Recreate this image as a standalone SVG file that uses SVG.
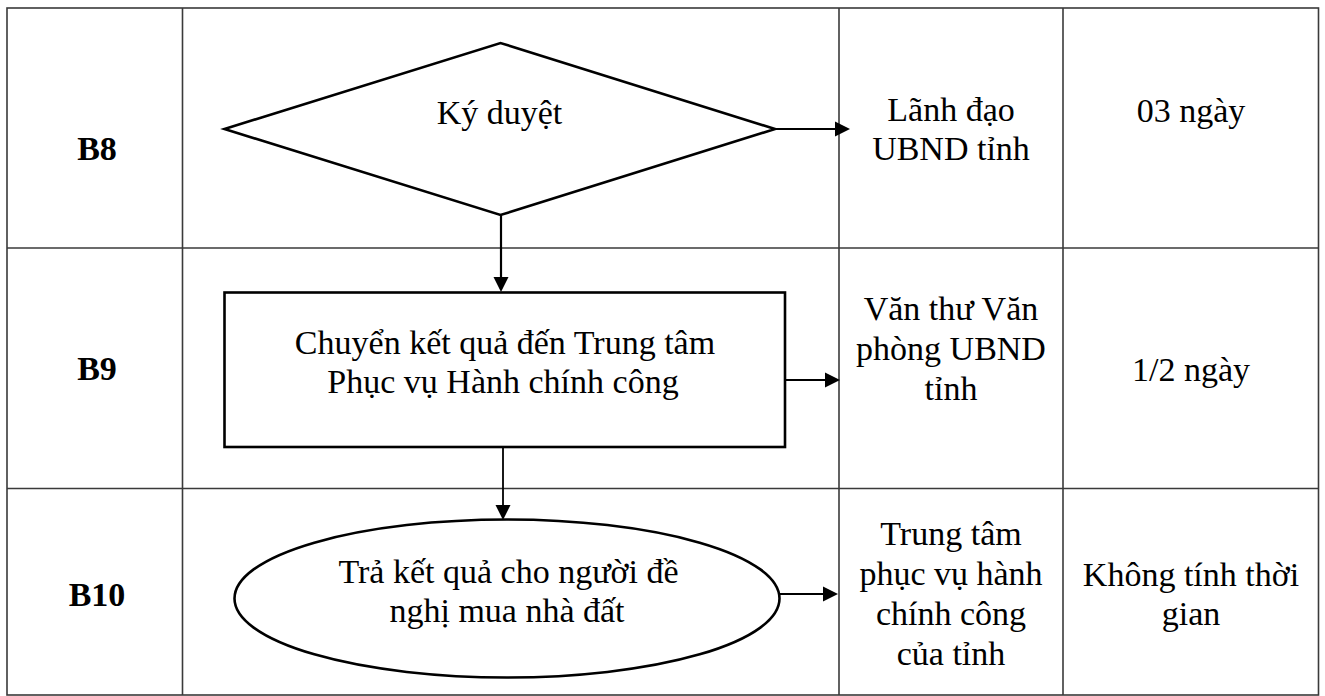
<svg xmlns="http://www.w3.org/2000/svg" width="1325" height="696" viewBox="0 0 1325 696">
<style>
.grid{stroke:#3a3a3a;stroke-width:1.6;fill:none}
.shape{stroke:#000;stroke-width:2.6;fill:#fff}
.conn{stroke:#000;fill:none}
text{font-family:'Liberation Serif',serif;font-size:34px;fill:#000;text-anchor:middle}
.b{font-weight:bold}
</style>
<defs>
<marker id="ah" markerUnits="userSpaceOnUse" markerWidth="16" markerHeight="16" refX="12" refY="8" orient="auto" viewBox="0 0 16 16">
<path d="M0,0.5 L15,8 L0,15.5 Z" fill="#000"/>
</marker>
</defs>
<rect width="1325" height="696" fill="#fff"/>
<g id="table">
<rect class="grid" x="7" y="8" width="1311.5" height="687"/>
<line class="grid" x1="182.5" y1="8" x2="182.5" y2="695"/>
<line class="grid" x1="839" y1="8" x2="839" y2="695"/>
<line class="grid" x1="1063" y1="8" x2="1063" y2="695"/>
<line class="grid" x1="7" y1="248" x2="1318.5" y2="248"/>
<line class="grid" x1="7" y1="488.5" x2="1318.5" y2="488.5"/>
</g>
<g id="labels" font-family="Liberation Serif, serif">
<text class="b" x="97" y="160">B8</text>
<text class="b" x="97" y="380">B9</text>
<text class="b" x="97" y="606">B10</text>
<text x="951" y="121">Lãnh đạo</text>
<text x="951" y="160">UBND tỉnh</text>
<text x="1191" y="122">03 ngày</text>
<text x="951" y="320">Văn thư Văn</text>
<text x="951" y="360">phòng UBND</text>
<text x="951" y="400">tỉnh</text>
<text x="1191" y="381">1/2 ngày</text>
<text x="951" y="545">Trung tâm</text>
<text x="951" y="585">phục vụ hành</text>
<text x="951" y="625">chính công</text>
<text x="951" y="665">của tỉnh</text>
<text x="1191" y="586">Không tính thời</text>
<text x="1191" y="625">gian</text>
</g>
<g id="node-b8">
<polygon class="shape" points="224.5,129 500.5,43 775,129 500.5,215"/>
<text x="499.5" y="124">Ký duyệt</text>
</g>
<g id="node-b9">
<rect class="shape" x="224.5" y="292.5" width="560.5" height="154.5"/>
<text x="505" y="354">Chuyển kết quả đến Trung tâm</text>
<text x="503" y="393">Phục vụ Hành chính công</text>
</g>
<g id="node-b10">
<ellipse class="shape" cx="507" cy="598.5" rx="272.5" ry="79"/>
<text x="508.5" y="583">Trả kết quả cho người đề</text>
<text x="507" y="622">nghị mua nhà đất</text>
</g>
<g id="connectors">
<path class="conn" stroke-width="1.8" d="M775,129 H847" marker-end="url(#ah)"/>
<path class="conn" stroke-width="2.2" d="M501,215 V289" marker-end="url(#ah)"/>
<path class="conn" stroke-width="1.8" d="M785,380 H837" marker-end="url(#ah)"/>
<path class="conn" stroke-width="1.8" d="M503,447 V517" marker-end="url(#ah)"/>
<path class="conn" stroke-width="1.8" d="M779.5,594 H835" marker-end="url(#ah)"/>
</g>
</svg>
